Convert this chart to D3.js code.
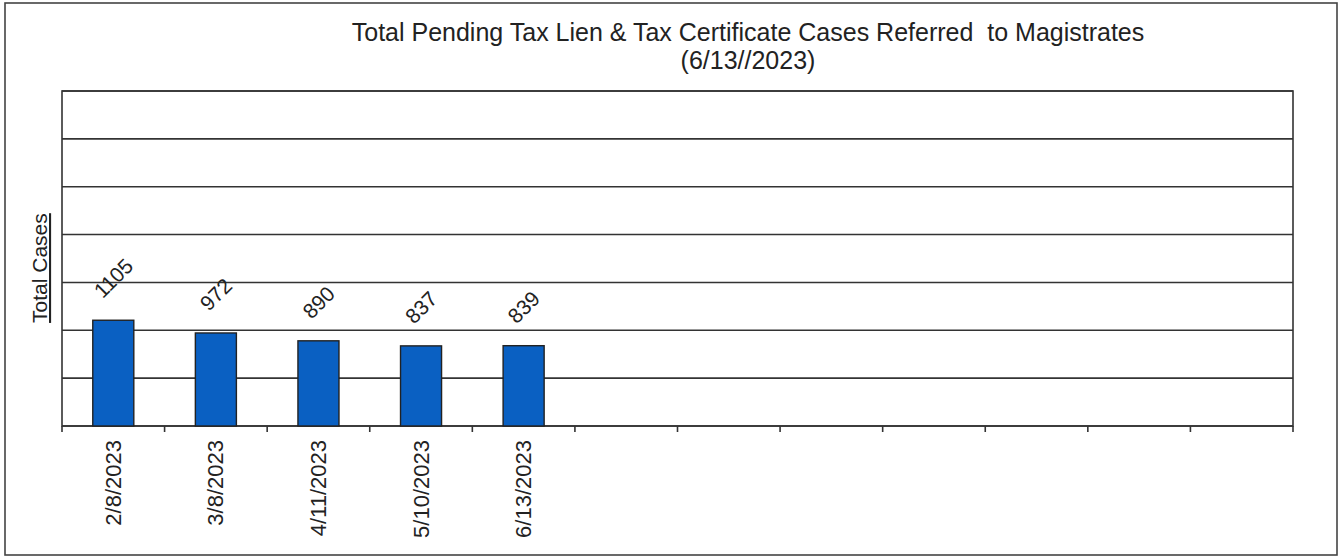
<!DOCTYPE html>
<html>
<head>
<meta charset="utf-8">
<script src="https://cdn.jsdelivr.net/npm/d3@7"></script>
<style>
  body { margin: 0; background: #fff; }
  text { font-family: "Liberation Sans", Arial, sans-serif; fill: #222; white-space: pre; }
</style>
</head>
<body>
<svg></svg>
<script>
// chart data
var dates = ["2/8/2023", "3/8/2023", "4/11/2023", "5/10/2023", "6/13/2023"];
var cases = [1105, 972, 890, 837, 839];
var slotCount = 12; // the sheet keeps room for a full year of dates
var yTicks = [0, 500, 1000, 1500, 2000, 2500, 3000, 3500];
var titleLines = ["Total Pending Tax Lien & Tax Certificate Cases Referred  to Magistrates", "(6/13//2023)"];
var yLabel = "Total Cases";

var width = 1339, height = 557;
var margin = {top: 91, right: 46, bottom: 131, left: 62};

var svg = d3.select("svg")
    .attr("width", width)
    .attr("height", height);

// outer frame
svg.append("rect")
    .attr("x", 5).attr("y", 3)
    .attr("width", 1332).attr("height", 552)
    .attr("fill", "none")
    .attr("stroke", "#444")
    .attr("stroke-width", 1.6);

var slots = d3.range(slotCount);
var x = d3.scaleBand()
    .domain(slots)
    .range([margin.left, width - margin.right])
    .paddingInner(0.6)
    .paddingOuter(0.3);

var y = d3.scaleLinear()
    .domain([0, 3500])
    .range([height - margin.bottom, margin.top]);

// gridlines
svg.append("g")
  .selectAll("line")
  .data(yTicks)
  .enter().append("line")
    .attr("x1", margin.left)
    .attr("x2", width - margin.right)
    .attr("y1", function(d) { return y(d); })
    .attr("y2", function(d) { return y(d); })
    .attr("stroke", "#333")
    .attr("stroke-width", 1.6);

// plot frame sides
svg.append("rect")
    .attr("x", margin.left)
    .attr("y", margin.top)
    .attr("width", width - margin.right - margin.left)
    .attr("height", y(0) - margin.top)
    .attr("fill", "none")
    .attr("stroke", "#333")
    .attr("stroke-width", 1.6);

// bars
var bars = svg.append("g");
bars.selectAll("rect")
  .data(cases)
  .enter().append("rect")
    .attr("x", function(d, i) { return x(i); })
    .attr("y", function(d) { return y(d); })
    .attr("width", x.bandwidth())
    .attr("height", function(d) { return y(0) - y(d); })
    .attr("fill", "#0a60c2")
    .attr("stroke", "#222")
    .attr("stroke-width", 1.4);

// rotated value labels, centred over each bar
var labelSize = 21;
var labels = svg.append("g").selectAll("text")
  .data(cases)
  .enter().append("text")
    .attr("font-size", labelSize)
    .attr("text-anchor", "middle")
    .attr("dominant-baseline", "central")
    .text(function(d) { return d; });

labels.attr("transform", function(d, i) {
  var w = this.getComputedTextLength();
  var half = (w + labelSize * 0.7) * Math.SQRT1_2 / 2;
  var cx = x(i) + x.bandwidth() / 2;
  return "translate(" + cx + "," + (y(d) - 21 - half) + ") rotate(-45)";
});

// x axis ticks at slot boundaries
var bounds = d3.range(slotCount + 1).map(function(i) {
  return margin.left + i * (width - margin.right - margin.left) / slotCount;
});
svg.append("g").selectAll("line")
  .data(bounds)
  .enter().append("line")
    .attr("x1", function(d) { return d; })
    .attr("x2", function(d) { return d; })
    .attr("y1", y(0))
    .attr("y2", y(0) + 6)
    .attr("stroke", "#333")
    .attr("stroke-width", 1.6);

// x labels
svg.append("g").selectAll("text")
  .data(dates)
  .enter().append("text")
    .attr("font-size", 22)
    .attr("text-anchor", "end")
    .attr("dominant-baseline", "central")
    .attr("transform", function(d, i) {
      return "translate(" + (x(i) + x.bandwidth() / 2) + "," + (y(0) + 14) + ") rotate(-90)";
    })
    .text(function(d) { return d; });

// y axis title
svg.append("text")
    .attr("font-size", 21)
    .attr("text-anchor", "middle")
    .attr("text-decoration", "underline")
    .attr("transform", "translate(47," + y(1650) + ") rotate(-90)")
    .text(yLabel);

// title
svg.append("g").selectAll("text")
  .data(titleLines)
  .enter().append("text")
    .attr("x", 748)
    .attr("y", function(d, i) { return 41 + i * 28; })
    .attr("font-size", 25)
    .attr("text-anchor", "middle")
    .text(function(d) { return d; });
</script>
</body>
</html>
